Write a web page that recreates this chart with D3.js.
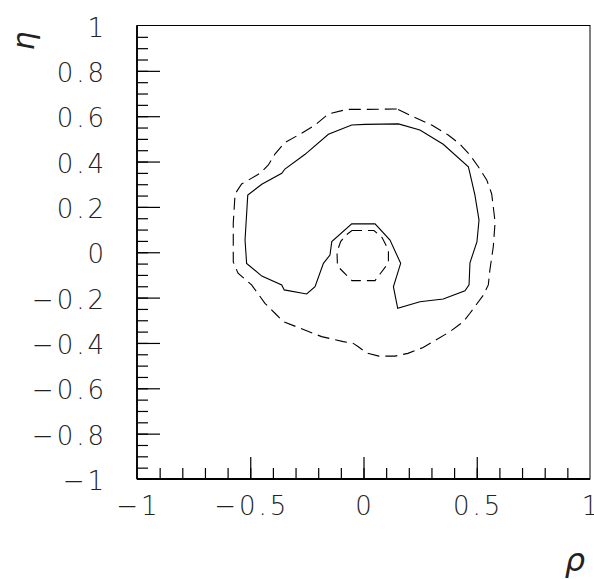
<!DOCTYPE html>
<html>
<head>
<meta charset="utf-8">
<script src="https://cdn.jsdelivr.net/npm/d3@7"></script>
<style>
  body { margin: 0; background: #fff; }
  text { font-family: "DejaVu Sans", sans-serif; font-weight: 200; fill: #222; }
</style>
</head>
<body>
<svg class="grafico" width="594" height="579"></svg>
<script>
// contorno continuo (rho, eta)
const solido = [
  [0.154, 0.566], [0.007, 0.564], [-0.052, 0.561], [-0.155, 0.520], [-0.258, 0.432],
  [-0.347, 0.367], [-0.361, 0.348], [-0.449, 0.300], [-0.511, 0.252], [-0.523, 0.054],
  [-0.516, -0.049], [-0.449, -0.105], [-0.361, -0.144], [-0.350, -0.166], [-0.251, -0.184],
  [-0.214, -0.152], [-0.177, -0.049], [-0.148, -0.012], [-0.140, 0.047], [-0.052, 0.125],
  [0.051, 0.125], [0.117, 0.054], [0.164, -0.049], [0.132, -0.152], [0.151, -0.247],
  [0.249, -0.218], [0.352, -0.206], [0.448, -0.170], [0.466, -0.144], [0.470, -0.047],
  [0.501, 0.047], [0.510, 0.142], [0.492, 0.252], [0.470, 0.348], [0.463, 0.377],
  [0.352, 0.476], [0.249, 0.539]
]

// contorno exterior a trazos
const exterior = [
  [0.147, 0.632], [0.014, 0.630], [-0.074, 0.630], [-0.155, 0.610], [-0.214, 0.561],
  [-0.280, 0.521], [-0.347, 0.484], [-0.391, 0.433], [-0.420, 0.385], [-0.457, 0.348],
  [-0.538, 0.301], [-0.567, 0.257], [-0.575, 0.129], [-0.575, -0.043], [-0.554, -0.092],
  [-0.494, -0.144], [-0.435, -0.225], [-0.391, -0.269], [-0.354, -0.306], [-0.280, -0.335],
  [-0.185, -0.372], [-0.089, -0.394], [-0.045, -0.402], [-0.023, -0.417], [0.014, -0.444],
  [0.068, -0.458], [0.139, -0.458], [0.196, -0.446], [0.263, -0.420], [0.382, -0.350],
  [0.441, -0.306], [0.470, -0.269], [0.529, -0.189], [0.551, -0.144], [0.558, -0.078],
  [0.573, 0.024], [0.581, 0.133], [0.566, 0.257], [0.544, 0.319], [0.507, 0.377],
  [0.470, 0.429], [0.426, 0.477], [0.374, 0.517], [0.301, 0.561], [0.220, 0.598]
]

// contorno interior a trazos
const interior = [
  [-0.051, 0.096], [0.046, 0.096], [0.082, 0.065], [0.110, 0.010], [0.110, -0.047],
  [0.073, -0.096], [0.051, -0.125], [-0.051, -0.125], [-0.115, -0.061], [-0.117, 0.001],
  [-0.101, 0.047], [-0.077, 0.076]
]

const ticksX = [-1, -0.5, 0, 0.5, 1]
const etiquetasX = ['\u22121', '\u22120.5', '0', '0.5', '1']
const ticksY = [-1, -0.8, -0.6, -0.4, -0.2, 0, 0.2, 0.4, 0.6, 0.8, 1]
const etiquetasY = ['\u22121', '\u22120.8', '\u22120.6', '\u22120.4', '\u22120.2', '0', '0.2', '0.4', '0.6', '0.8', '1']

const svg = d3.select('.grafico')

const x = d3.scaleLinear().domain([-1, 1]).range([137, 590])
const y = d3.scaleLinear().domain([-1, 1]).range([479, 25.5])

// marco
svg.append('rect')
  .attr('x', x(-1)).attr('y', y(1))
  .attr('width', x(1) - x(-1)).attr('height', y(-1) - y(1))
  .attr('fill', 'none').attr('stroke', 'black').attr('stroke-width', 1)

// eje x
const ejeX = d3.axisTop(x)
  .tickValues(d3.range(-9, 10).map(d => d / 10))
  .tickSize(11).tickFormat('')
svg.append('g').attr('transform', `translate(0,${y(-1)})`).call(ejeX)

const ejeXmayor = d3.axisTop(x).tickValues(ticksX.slice(1, -1)).tickSize(22).tickFormat('')
svg.append('g').attr('transform', `translate(0,${y(-1)})`).call(ejeXmayor)

// eje y
const ejeY = d3.axisRight(y)
  .tickValues(d3.range(-19, 20).map(d => d / 20))
  .tickSize(11).tickFormat('')
svg.append('g').attr('transform', `translate(${x(-1)},0)`).call(ejeY)

const ejeYmayor = d3.axisRight(y).tickValues(ticksY.slice(1, -1)).tickSize(23).tickFormat('')
svg.append('g').attr('transform', `translate(${x(-1)},0)`).call(ejeYmayor)

svg.selectAll('.domain').remove()
svg.selectAll('.tick line').attr('stroke', 'black').attr('stroke-width', 1.2)

// lineas de ejes
svg.append('line')
  .attr('x1', x(-1)).attr('x2', x(1)).attr('y1', y(-1)).attr('y2', y(-1))
  .attr('stroke', 'black').attr('stroke-width', 1.8)
svg.append('line')
  .attr('x1', x(-1)).attr('x2', x(-1)).attr('y1', y(-1)).attr('y2', y(1))
  .attr('stroke', 'black').attr('stroke-width', 1.8)

// etiquetas
svg.append('g').selectAll('text')
  .data(ticksX)
  .join('text')
  .attr('x', d => x(d) + 1.5)
  .attr('y', 515)
  .attr('text-anchor', 'middle')
  .attr('font-size', 26)
  .attr('letter-spacing', 3)
  .text((d, i) => etiquetasX[i])

svg.append('g').selectAll('text')
  .data(ticksY)
  .join('text')
  .attr('x', 107)
  .attr('y', d => y(d) + 11)
  .attr('text-anchor', 'end')
  .attr('font-size', 26)
  .attr('letter-spacing', 3)
  .text((d, i) => etiquetasY[i])

// titulos
svg.append('text')
  .attr('transform', 'translate(34,41) rotate(-90)')
  .attr('text-anchor', 'middle')
  .attr('font-size', 30)
  .attr('font-style', 'italic')
  .text('η')

svg.append('text')
  .attr('x', 575)
  .attr('y', 571)
  .attr('text-anchor', 'middle')
  .attr('font-size', 32)
  .attr('font-style', 'italic')
  .text('ρ')

// contornos
const linea = d3.line()
  .x(d => x(d[0]))
  .y(d => y(d[1]))
  .curve(d3.curveLinearClosed)

svg.append('path')
  .attr('d', linea(solido))
  .attr('fill', 'none').attr('stroke', 'black').attr('stroke-width', 1.1)

svg.append('path')
  .attr('d', linea(exterior))
  .attr('fill', 'none').attr('stroke', 'black').attr('stroke-width', 1.1)
  .attr('stroke-dasharray', '12,6')

svg.append('path')
  .attr('d', linea(interior))
  .attr('fill', 'none').attr('stroke', 'black').attr('stroke-width', 1.1)
  .attr('stroke-dasharray', '10,6')
</script>
</body>
</html>
